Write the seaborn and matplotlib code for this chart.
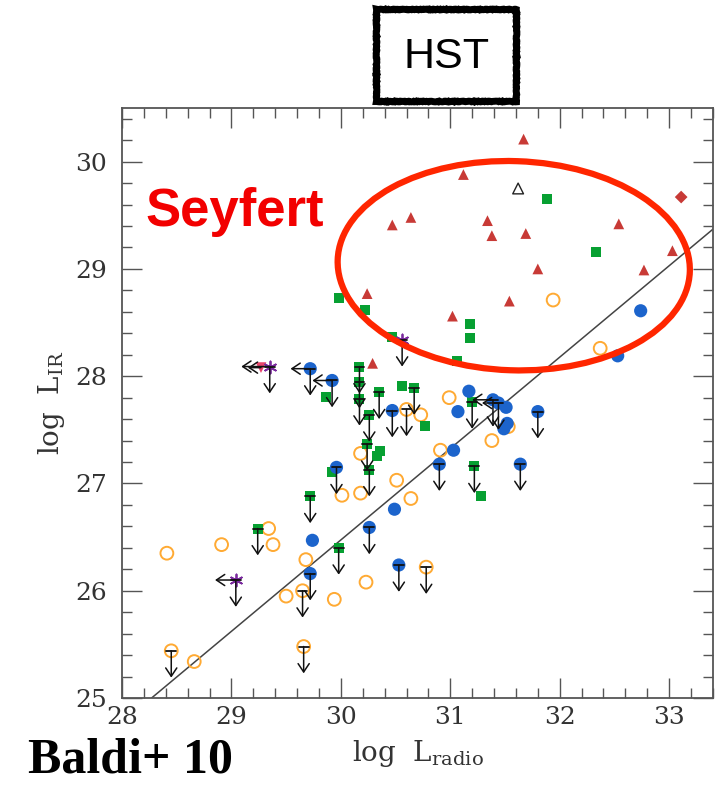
import numpy as np
import pandas as pd
import matplotlib
matplotlib.use("Agg")
import matplotlib.pyplot as plt
import seaborn as sns
from matplotlib.patches import Ellipse, Rectangle
from matplotlib.ticker import MultipleLocator

# --- data (log L_radio, log L_IR) ---
# Seyferts: filled red triangles
sey_x = [31.67, 31.12, 30.47, 30.64, 30.24, 30.29, 31.34, 31.38, 31.69, 31.80,
         31.54, 31.02, 32.54, 33.03, 32.77]
sey_y = [30.21, 29.88, 29.41, 29.48, 28.77, 28.12, 29.45, 29.31, 29.33, 29.00,
         28.70, 28.56, 29.42, 29.17, 28.99]

# single special symbols
open_tri_x, open_tri_y = [31.62], [29.75]
diamond_x, diamond_y = [33.11], [29.67]
pink_x, pink_y, pink_left = [29.27], [28.08], [0.12]

# green squares (1 = upper limit in L_IR)
green_x = [31.88, 32.33, 31.18, 31.18, 31.06, 29.98, 30.22, 30.47, 30.17, 30.17,
           30.17, 29.86, 30.35, 30.56, 30.67, 30.26, 30.77, 30.24, 30.36, 30.33,
           29.92, 30.26, 29.72, 31.20, 31.22, 31.28, 29.24, 29.98]
green_y = [29.65, 29.16, 28.49, 28.36, 28.14, 28.73, 28.62, 28.37, 28.09, 27.95,
           27.79, 27.81, 27.85, 27.91, 27.89, 27.64, 27.54, 27.37, 27.30, 27.26,
           27.11, 27.13, 26.88, 27.76, 27.16, 26.88, 26.58, 26.40]
green_ul = [0, 0, 0, 0, 0, 0, 0, 0, 1, 1,
            1, 0, 1, 0, 1, 1, 0, 1, 0, 0,
            0, 1, 1, 1, 1, 0, 1, 1]

# blue filled circles
blue_x = [32.74, 32.53, 29.72, 29.92, 30.47, 31.17, 31.07, 31.39, 31.44, 31.51,
          31.52, 31.49, 31.80, 31.03, 30.90, 31.64, 29.96, 30.49, 29.74, 30.26,
          29.72, 30.53]
blue_y = [28.61, 28.19, 28.07, 27.96, 27.68, 27.86, 27.67, 27.78, 27.75, 27.71,
          27.56, 27.51, 27.67, 27.31, 27.18, 27.18, 27.15, 26.76, 26.47, 26.59,
          26.16, 26.24]
blue_ul = [0, 0, 1, 1, 1, 0, 0, 1, 1, 0,
           0, 0, 1, 0, 1, 1, 1, 0, 0, 1,
           1, 1]
blue_left = [0, 0, 0.18, 0.18, 0, 0, 0, 0.19, 0.15, 0,
             0, 0, 0, 0, 0, 0, 0, 0, 0, 0,
             0, 0]

# orange open circles
orange_x = [31.94, 32.37, 30.60, 30.73, 30.99, 31.38, 30.91, 30.18, 30.51, 30.01,
            30.18, 30.64, 29.34, 29.38, 28.91, 28.41, 29.68, 29.65, 29.50, 29.94,
            30.23, 30.78, 28.45, 28.66, 29.66, 31.53]
orange_y = [28.71, 28.26, 27.69, 27.64, 27.80, 27.40, 27.31, 27.28, 27.03, 26.89,
            26.91, 26.86, 26.58, 26.43, 26.43, 26.35, 26.29, 26.00, 25.95, 25.92,
            26.08, 26.22, 25.44, 25.34, 25.48, 27.53]
orange_ul = [0, 0, 1, 0, 0, 0, 0, 0, 0, 0,
             0, 0, 0, 0, 0, 0, 0, 1, 0, 0,
             0, 1, 1, 0, 1, 0]

# purple asterisks
purple_x = [29.35, 30.56, 29.04]
purple_y = [28.09, 28.34, 26.10]
purple_ul = [1, 1, 1]
purple_left = [0.26, 0, 0.19]

# correlation line
line_x = [28.27, 33.40]
line_y = [25.00, 29.37]

GREEN = "#07a032"
BLUE = "#1c64cc"
ORANGE = "#ffaa33"
RED = "#c83a36"
PURPLE = "#7a2a9e"

sns.set_style("ticks")
plt.rcParams["font.family"] = ["DejaVu Serif"]
plt.rcParams["mathtext.fontset"] = "dejavuserif"

fig = plt.figure(figsize=(7.25, 7.85), dpi=100)
ax = fig.add_axes([0.1683, 0.1108, 0.8150, 0.7516])

sns.lineplot(x=line_x, y=line_y, color="#444444", lw=1.1, ax=ax, zorder=2)

sns.scatterplot(x=orange_x, y=orange_y, marker="o", s=85, facecolor="none",
                edgecolor=ORANGE, linewidth=1.4, ax=ax, zorder=3)
sns.scatterplot(x=green_x, y=green_y, marker="s", s=52, color=GREEN,
                edgecolor="none", ax=ax, zorder=3)
sns.scatterplot(x=blue_x, y=blue_y, marker="o", s=90, color=BLUE,
                edgecolor="none", ax=ax, zorder=3)
sns.scatterplot(x=sey_x, y=sey_y, marker="^", s=60, color=RED,
                edgecolor="none", ax=ax, zorder=3)
sns.scatterplot(x=diamond_x, y=diamond_y, marker="D", s=42, color=RED,
                edgecolor="none", ax=ax, zorder=3)
sns.scatterplot(x=open_tri_x, y=open_tri_y, marker="^", s=60, facecolor="none",
                edgecolor="#222222", linewidth=1.0, ax=ax, zorder=3)
sns.scatterplot(x=pink_x, y=pink_y, marker="v", s=60, color="#e8456b",
                edgecolor="none", ax=ax, zorder=3)
sns.scatterplot(x=purple_x, y=purple_y, marker=(6, 2, 0), s=75, color=PURPLE,
                linewidth=1.3, ax=ax, zorder=4)


def draw_limits(xs, ys, down, left=None):
    if left is None:
        left = [0] * len(xs)
    style = dict(arrowstyle="->,head_length=0.6,head_width=0.4", color="#111111",
                 lw=1.1, shrinkA=0, shrinkB=0)
    for xi, yi, d, l in zip(xs, ys, down, left):
        if d:
            ax.annotate("", xy=(xi, yi - 0.25), xytext=(xi, yi),
                        arrowprops=style, zorder=5)
            ax.plot([xi - 0.045, xi + 0.045], [yi, yi], color="#111111",
                    lw=1.3, zorder=5)
        if l:
            ax.annotate("", xy=(xi - l, yi), xytext=(xi, yi),
                        arrowprops=style, zorder=5)


draw_limits(green_x, green_y, green_ul)
draw_limits(blue_x, blue_y, blue_ul, blue_left)
draw_limits(orange_x, orange_y, orange_ul)
draw_limits(purple_x, purple_y, purple_ul, purple_left)
draw_limits(pink_x, pink_y, [0], pink_left)

# highlighted Seyfert region
ax.add_patch(Ellipse((31.58, 29.03), 3.22, 1.95, angle=-2, fill=False,
                     ec="#ff2600", lw=4.5, zorder=6))

ax.set_xlim(28, 33.4)
ax.set_ylim(25, 30.5)
ax.xaxis.set_major_locator(MultipleLocator(1))
ax.xaxis.set_minor_locator(MultipleLocator(0.2))
ax.yaxis.set_major_locator(MultipleLocator(1))
ax.yaxis.set_minor_locator(MultipleLocator(0.2))
ax.tick_params(which="both", direction="in", top=True, right=True,
               color="#555555", width=1.0, labelcolor="#333333", labelsize=18)
ax.tick_params(which="major", length=14.5)
ax.tick_params(which="minor", length=7.5)
ax.tick_params(axis="x", pad=6)
ax.tick_params(axis="y", pad=11)
for sp in ax.spines.values():
    sp.set_color("#555555")
    sp.set_linewidth(1.3)

ax.set_xlabel(r"$\mathrm{log\ \ L_{radio}}$", fontsize=20, color="#333333", labelpad=6)
ax.set_ylabel(r"$\mathrm{log\ \ L_{IR}}$", fontsize=20, color="#333333", labelpad=6)

fig.text(0.20, 0.712, "Seyfert", family="Liberation Sans", weight="bold",
         fontsize=38, color="#f20000", va="baseline")
fig.text(0.0386, 0.016, "Baldi+ 10", family="Liberation Serif", weight="bold",
         fontsize=36, color="black", va="baseline")

# HST label in a rough frame
box = Rectangle((0.519, 0.871), 0.193, 0.117, transform=fig.transFigure,
                facecolor="white", edgecolor="black", lw=5, joinstyle="miter",
                zorder=10)
box.set_sketch_params(scale=0.35, length=3, randomness=6)
fig.add_artist(box)
fig.text(0.6166, 0.927, "HST", family="Liberation Sans", fontsize=31,
         color="black", ha="center", va="center", zorder=11)

fig.savefig("out.png", dpi=100)
